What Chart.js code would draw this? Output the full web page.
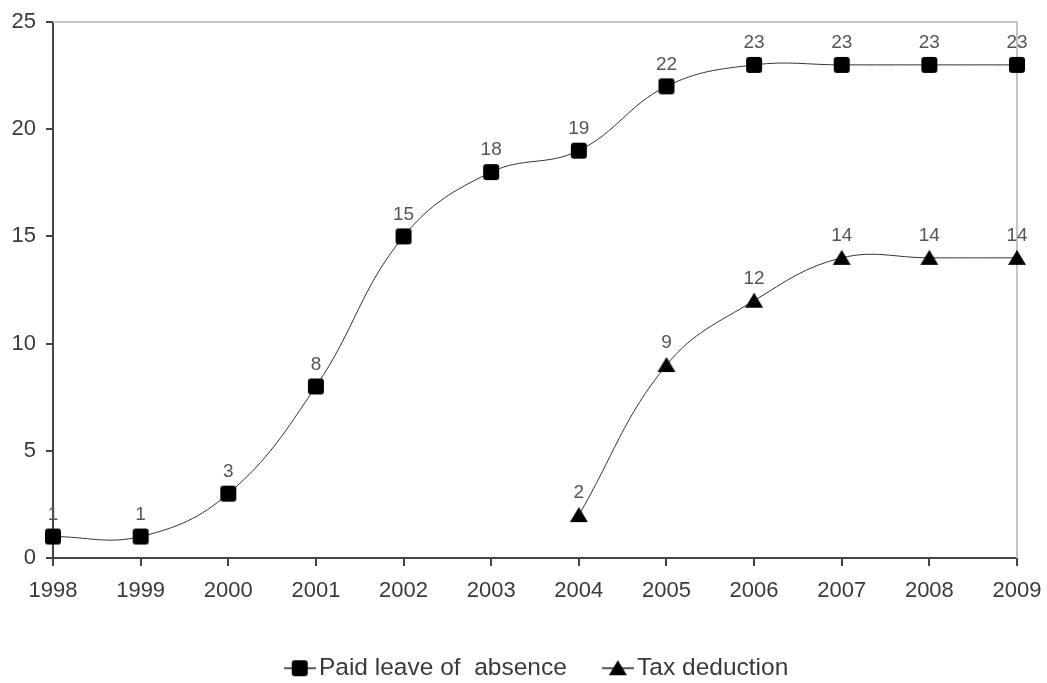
<!DOCTYPE html>
<html>
<head>
<meta charset="utf-8">
<script src="https://cdn.jsdelivr.net/npm/chart.js@4.4.1/dist/chart.umd.min.js"></script>
<style>
  html, body { margin: 0; padding: 0; background: #fff; }
  #wrap { width: 1047px; height: 683px; }
</style>
</head>
<body>
<div id="wrap"><canvas id="c" width="1047" height="683"></canvas></div>
<script>
const years = ['1998','1999','2000','2001','2002','2003','2004','2005','2006','2007','2008','2009'];
const paidLeave = [1, 1, 3, 8, 15, 18, 19, 22, 23, 23, 23, 23];
const taxDeduction = [null, null, null, null, null, null, 2, 9, 12, 14, 14, 14];
const yTicks = [0, 5, 10, 15, 20, 25];

const FONT = '"Liberation Sans", Arial, sans-serif';
const TEXT = '#3a3a3a';

// marker images: a slightly rounded square and a filled triangle
function marker(kind, withLine) {
  const w = withLine ? 32 : 20, h = 20;
  const c = document.createElement('canvas');
  c.width = w; c.height = h;
  const g = c.getContext('2d');
  const cx = w / 2, cy = h / 2;
  if (withLine) {
    g.strokeStyle = '#222'; g.lineWidth = 1.5;
    g.beginPath(); g.moveTo(0, cy); g.lineTo(w, cy); g.stroke();
  }
  g.fillStyle = '#000';
  g.beginPath();
  if (kind === 'square') {
    g.roundRect(cx - 8, cy - 8, 16, 16, 3);
  } else {
    g.moveTo(cx, cy - 8); g.lineTo(cx + 9, cy + 7); g.lineTo(cx - 9, cy + 7); g.closePath();
  }
  g.fill();
  return c;
}

// value labels above each point
const valueLabels = {
  id: 'valueLabels',
  afterDatasetsDraw(chart) {
    const ctx = chart.ctx;
    ctx.save();
    ctx.font = '19px ' + FONT;
    ctx.fillStyle = '#555';
    ctx.textAlign = 'center';
    ctx.textBaseline = 'middle';
    chart.data.datasets.forEach((ds, i) => {
      const meta = chart.getDatasetMeta(i);
      meta.data.forEach((pt, j) => {
        const v = ds.data[j];
        if (v === null || v === undefined) return;
        ctx.fillText(String(v), pt.x, pt.y - 22);
      });
    });
    ctx.restore();
  }
};

// light grey frame on the top and right sides of the plot
const frame = {
  id: 'frame',
  beforeDatasetsDraw(chart) {
    const a = chart.chartArea, ctx = chart.ctx;
    ctx.save();
    ctx.strokeStyle = '#c4c4c4';
    ctx.lineWidth = 2;
    ctx.beginPath();
    ctx.moveTo(a.left, a.top);
    ctx.lineTo(a.right, a.top);
    ctx.lineTo(a.right, a.bottom);
    ctx.stroke();
    ctx.restore();
  }
};

// nudge the legend row a little to the right of the canvas centre
const legendShift = {
  id: 'legendShift',
  afterLayout(chart) {
    if (chart.legend) chart.legend.left = 64;
  }
};

const kinds = ['square', 'triangle'];

new Chart(document.getElementById('c'), {
  type: 'line',
  data: {
    labels: years,
    datasets: [
      {
        label: 'Paid leave of  absence',
        data: paidLeave,
        borderColor: '#333',
        borderWidth: 1,
        tension: 0.4,
        pointStyle: marker('square', false),
        pointRadius: 9,
        pointHoverRadius: 9,
        clip: false
      },
      {
        label: 'Tax deduction',
        data: taxDeduction,
        borderColor: '#333',
        borderWidth: 1,
        tension: 0.4,
        pointStyle: marker('triangle', false),
        pointRadius: 9,
        pointHoverRadius: 9,
        spanGaps: false,
        clip: false
      }
    ]
  },
  options: {
    responsive: false,
    animation: false,
    layout: { padding: { top: 22, right: 30, left: 0, bottom: 0 } },
    plugins: {
      tooltip: { enabled: false },
      legend: {
        position: 'bottom',
        maxHeight: 71,
        labels: {
          font: { family: FONT, size: 24.5 },
          color: TEXT,
          usePointStyle: true,
          pointStyleWidth: 14,
          padding: 44,
          generateLabels(chart) {
            return chart.data.datasets.map((ds, i) => ({
              text: ds.label,
              fillStyle: '#000',
              strokeStyle: '#000',
              lineWidth: 0,
              pointStyle: marker(kinds[i], true),
              hidden: false,
              datasetIndex: i,
              fontColor: TEXT
            }));
          }
        }
      }
    },
    scales: {
      x: {
        type: 'category',
        offset: false,
        grid: { display: true, drawOnChartArea: false, drawTicks: true, tickLength: 8, color: '#444', lineWidth: 2 },
        border: { display: true, color: '#444', width: 2 },
        ticks: { font: { family: FONT, size: 22 }, color: TEXT, padding: 12, maxRotation: 0, autoSkip: false },
        afterFit(s) { s.height = 54; s.paddingRight = 0; s.paddingLeft = 0; }
      },
      y: {
        min: 0, max: 25,
        afterBuildTicks(s) { s.ticks = yTicks.map(v => ({ value: v })); },
        grid: { display: true, drawOnChartArea: false, drawTicks: true, tickLength: 7, color: '#444', lineWidth: 2 },
        border: { display: true, color: '#444', width: 2 },
        ticks: { font: { family: FONT, size: 22 }, color: TEXT, padding: 10 },
        afterFit(s) { s.width = 53; s.paddingTop = 0; s.paddingBottom = 0; }
      }
    }
  },
  plugins: [frame, valueLabels, legendShift]
});
</script>
</body>
</html>
